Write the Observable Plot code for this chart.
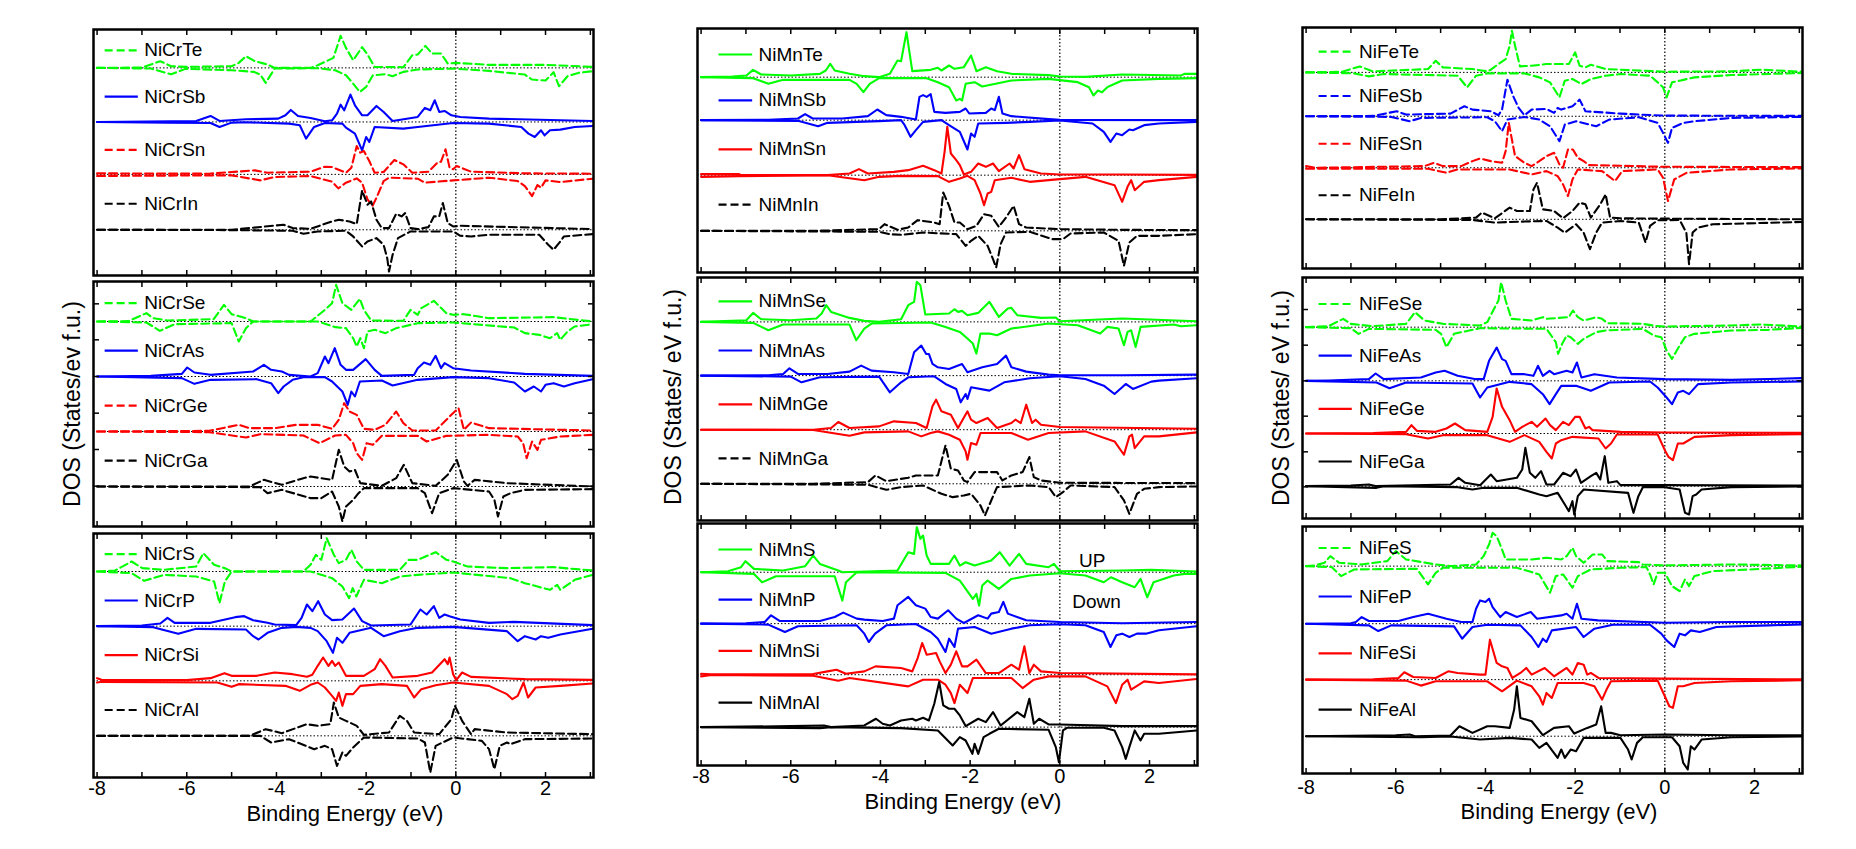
<!DOCTYPE html>
<html><head><meta charset="utf-8">
<script src="https://cdn.jsdelivr.net/npm/d3@7"></script>
<script src="https://cdn.jsdelivr.net/npm/@observablehq/plot@0.6"></script>
<style>
body{margin:0;background:#fff;}
#root{position:relative;width:1856px;height:849px;font-family:"Liberation Sans",Arial,sans-serif;color:#000;}
.ylab{position:absolute;font-size:23px;line-height:1;transform:translate(-50%,-50%) rotate(-90deg);white-space:nowrap;}
.xlab{position:absolute;font-size:22px;line-height:1;transform:translate(-50%,-50%);white-space:nowrap;}
</style></head><body><div id="root"></div>
<script>
// ---------- tick values ----------
const energyTicks = [-8,-7,-6,-5,-4,-3,-2,-1,0,1,2,3];
const energyLabels = [-8,-6,-4,-2,0,2];
const yTicksCr = [12.1,23.1,34.0,45.0,56.0,66.8];
const yTicksFe = [9.5,20.0,30.7,41.3,52.0,62.7];
const xAxisTitle = "Binding Energy (eV)";
const yAxisTitles = ["DOS (States/ev f.u.)","DOS (States/ eV f.u.)","DOS (States/ eV f.u.)"];
const spinLabels = ["UP","Down"];

// ---------- DOS data: [energy, value] pairs, spin up / spin down ----------
// NiCr top
const NiCrTe_up=[-8,0,-7.0,0.1,-6.59,2.0,-6.35,0.5,-6.03,0.3,-5.0,0.5,-4.84,1.5,-4.68,3.5,-4.48,2.0,-4.2,1.0,-4.04,0,-3.24,0,-3.08,0.8,-2.92,1.8,-2.73,3.0,-2.57,9.6,-2.45,6.0,-2.29,2.3,-2.09,6.2,-1.97,4.0,-1.81,0.3,-1.17,0.2,-0.97,3.8,-0.85,4.0,-0.68,6.6,-0.53,4.3,-0.33,4.3,-0.18,1.3,0,1.5,0.74,0.9,2.0,0.9,3.05,0.3];
const NiCrTe_dn=[-8,0,-6.8,0.2,-6.35,1.9,-6.03,0.3,-5.0,0.7,-4.5,1.2,-4.36,2.0,-4.24,4.5,-4.04,0.2,-3.08,0.1,-2.69,0.7,-2.45,2.2,-2.29,4.7,-2.14,7.2,-2.0,5.7,-1.85,2.2,-1.57,1.9,-1.41,2.5,-1.17,1.2,-0.85,0.5,-0.06,0.2,0.74,0.9,1.54,2.0,1.7,3.5,2.0,3.8,2.18,1.3,2.3,5.5,2.49,2.5,2.73,1.5,3.05,1.0];
const NiCrSb_up=[-8,0,-5.79,0.3,-5.47,1.8,-5.27,0.3,-4.68,0.8,-3.96,1.0,-3.8,2.0,-3.68,3.6,-3.52,1.8,-3.24,1.2,-2.92,0.2,-2.76,0.5,-2.65,2.5,-2.57,5.2,-2.49,3.5,-2.35,8.2,-2.25,5.0,-2.09,2.0,-1.97,2.0,-1.77,4.8,-1.61,3.0,-1.41,0.3,-0.85,1.5,-0.69,4.2,-0.57,3.5,-0.47,6.5,-0.37,3.0,-0.25,3.3,-0.1,2.0,0.1,1.5,0.74,1.0,3.05,0.3];
const NiCrSb_dn=[-8,0,-6.43,0.2,-5.47,0.3,-5.27,1.5,-5.0,0.2,-4.68,0.1,-3.72,0.5,-3.48,1.0,-3.34,5.0,-3.16,1.5,-2.92,0.3,-2.53,0.5,-2.45,1.7,-2.25,3.5,-2.09,8.5,-2.0,4.5,-1.93,6.0,-1.81,1.5,-1.17,2.0,-0.85,1.5,-0.06,0.3,0.74,0.5,1.46,1.5,1.62,3.5,1.76,4.5,1.9,2.5,1.98,4.0,2.1,2.5,2.33,2.3,2.65,1.5,3.05,1.2];
const NiCrSn_up=[-8,0.3,-5.5,0.2,-4.48,1.2,-4.2,0.5,-3.24,0.8,-2.92,2.3,-2.76,2.2,-2.45,0.5,-2.33,2.0,-2.21,8.5,-2.13,6.5,-2.05,7.0,-1.93,4.0,-1.81,0.5,-1.61,0.7,-1.37,4.3,-1.17,3.0,-0.97,0.5,-0.61,0.8,-0.41,3.5,-0.33,3.8,-0.23,7.5,-0.14,2.0,-0.06,1.5,0.02,2.5,0.34,0.8,1.54,0.3,3.05,0.2];
const NiCrSn_dn=[-8,0.5,-7.2,0.4,-5.0,0.3,-4.36,1.8,-4.04,0.8,-3.24,0.5,-2.76,2.2,-2.62,4.2,-2.45,2.5,-2.21,1.2,-2.09,2.5,-1.97,7.5,-1.86,9.5,-1.77,7.0,-1.61,2.0,-1.49,1.0,-0.85,1.3,-0.69,2.5,-0.06,1.8,0.74,1.0,1.38,2.0,1.54,3.5,1.7,6.5,1.82,3.2,1.9,4.0,2.0,1.8,2.33,2.3,3.05,1.3];
const NiCrIn_up=[-8,0,-5,0,-3.84,1.5,-3.64,0.5,-3.24,0.3,-2.76,2.5,-2.61,3.0,-2.37,2.5,-2.21,1.7,-2.09,11.8,-1.97,7.5,-1.89,8.5,-1.77,3.0,-1.65,0.5,-1.49,0.5,-1.33,4.8,-1.21,4.0,-1.13,5.0,-1.01,0.5,-0.85,0.2,-0.61,0.8,-0.49,4.0,-0.37,4.0,-0.29,8.0,-0.18,2.0,-0.06,1.0,0.1,1.2,3.05,0.2];
const NiCrIn_dn=[-8,0,-5,0.1,-3.64,0.3,-3.4,1.2,-3.08,0.5,-2.45,0.3,-2.29,2.0,-2.09,5.0,-1.97,3.5,-1.77,2.5,-1.61,4.5,-1.53,8.5,-1.49,12.5,-1.41,7.5,-1.29,2.5,-1.01,0.5,-0.06,0.5,0.1,1.8,0.34,2.0,0.74,1.5,1.86,1.5,2.06,4.5,2.18,6.0,2.3,4.0,2.41,2.0,3.05,1.3];
// NiCr middle
const NiCrSe_up=[-8,0,-7.3,0.1,-6.9,2.5,-6.75,1.0,-6.43,0.3,-5.4,0.7,-5.17,5.0,-5.0,2.2,-4.68,1.0,-4.52,0,-3.24,0,-2.92,3.5,-2.76,5.5,-2.67,11.0,-2.53,5.5,-2.33,3.5,-2.14,6.8,-2.05,3.5,-1.89,0.3,-1.17,0.2,-1.01,3.5,-0.85,2.0,-0.77,4.0,-0.49,6.2,-0.21,2.5,-0.06,2.0,0.18,2.2,0.74,1.0,2.18,1.3,3.05,0];
const NiCrSe_dn=[-8,0,-6.9,0.3,-6.6,2.8,-6.27,0.8,-5.0,0.5,-4.84,6.0,-4.68,2.0,-4.52,0,-3.08,0,-2.69,1.7,-2.45,2.0,-2.29,5.0,-2.21,7.5,-2.13,5.0,-2.05,8.0,-1.97,3.0,-1.81,2.5,-1.57,3.5,-1.33,2.0,-0.85,0.5,-0.06,0.3,1.3,1.8,1.54,3.5,1.86,4.0,2.1,5.0,2.26,3.5,2.33,5.5,2.49,3.0,2.65,1.5,3.05,0.8];
const NiCrAs_up=[-8,0,-6.8,0.2,-6.11,0.8,-5.99,2.7,-5.83,1.2,-5.47,0.5,-4.52,1.5,-4.28,3.5,-4.12,2.0,-3.88,1.5,-3.72,0.5,-3.24,0,-3.08,1.0,-2.92,6.0,-2.84,4.0,-2.7,8.5,-2.57,3.5,-2.45,2.0,-2.29,2.0,-2.01,5.2,-1.81,2.0,-1.65,0.2,-0.93,0.5,-0.85,2.5,-0.71,4.2,-0.57,3.5,-0.45,6.2,-0.33,2.5,-0.25,4.0,-0.06,2.5,0.34,1.8,1.54,0.8,3.05,0.2];
const NiCrAs_dn=[-8,0,-6.11,0.5,-5.83,2.2,-5.47,1.0,-4.44,0.8,-4.12,2.0,-3.96,5.0,-3.84,3.0,-3.64,1.0,-3.4,0.2,-2.92,0.2,-2.76,1.5,-2.53,4.5,-2.41,8.5,-2.33,4.5,-2.25,6.0,-2.14,1.5,-1.65,1.2,-1.41,2.7,-0.85,1.0,-0.06,0.2,0.74,0.5,1.3,1.8,1.54,4.5,1.74,3.0,1.9,4.5,2.0,2.5,2.18,2.0,2.41,3.0,2.65,2.0,3.05,0.8];
const NiCrGe_up=[-8,0,-5.5,0.2,-4.84,2.0,-4.6,1.0,-4.04,1.0,-3.56,2.0,-3.08,2.0,-2.76,0.8,-2.61,3.5,-2.49,8.5,-2.37,6.0,-2.21,5.0,-2.05,0.8,-1.81,0.5,-1.57,2.0,-1.33,6.0,-1.17,2.5,-0.97,0.3,-0.45,0.3,-0.21,3.5,-0.1,5.0,0.06,7.0,0.18,0.5,0.34,2.7,0.74,1.0,3.05,0.3];
const NiCrGe_dn=[-8,0,-5.5,0.2,-4.68,1.8,-4.36,0.8,-3.4,1.2,-3.04,3.5,-2.69,1.2,-2.45,1.0,-2.29,3.5,-2.21,6.5,-2.09,8.5,-1.99,3.5,-1.85,4.0,-1.65,1.3,-0.85,1.3,-0.65,3.0,-0.21,1.3,0.74,1.0,1.38,1.5,1.5,3.5,1.58,8.0,1.7,3.0,1.82,5.5,1.9,2.5,2.33,1.5,3.05,1.0];
const NiCrGa_up=[-8,0,-4.6,0,-4.28,2.0,-3.88,0.5,-3.4,2.5,-3.24,3.0,-2.76,2.0,-2.61,11.0,-2.49,6.0,-2.37,4.5,-2.25,5.0,-2.13,1.0,-1.65,0.2,-1.33,2.5,-1.16,6.5,-0.97,1.0,-0.45,0.2,-0.18,3.5,0.02,8.0,0.18,1.5,0.26,0.2,0.42,2.0,1.14,1.0,3.05,0];
const NiCrGa_dn=[-8,0,-4.36,0.2,-4.2,2.0,-3.88,1.0,-3.24,3.5,-3.0,3.5,-2.76,1.5,-2.61,6.0,-2.53,10.5,-2.45,6.0,-2.29,4.0,-2.17,2.0,-2.05,0.5,-0.85,0.5,-0.69,2.0,-0.53,8.0,-0.37,2.0,-0.06,0.5,0.74,1.5,0.86,4.0,0.94,9.0,1.06,3.0,1.22,2.0,1.54,1.0,3.05,0.8];
// NiCr bottom
const NiCrS_up=[-8,0,-7.6,0.3,-7.23,3.0,-6.99,1.0,-6.51,0.5,-5.79,1.5,-5.63,5.5,-5.39,2.0,-5.15,1.0,-5.0,0,-3.4,0,-3.24,2.0,-3.12,5.0,-3.0,3.5,-2.88,10.0,-2.72,5.0,-2.61,2.5,-2.45,3.5,-2.33,6.5,-2.21,3.0,-2.05,0.5,-1.25,0.5,-1.05,3.5,-0.85,3.5,-0.45,5.8,-0.21,3.5,-0.06,3.0,0.26,1.5,1.14,1.0,2.18,1.3,3.05,0.3];
const NiCrS_dn=[-8,0,-7.23,0.5,-6.95,2.8,-6.51,1.0,-5.79,1.5,-5.39,3.0,-5.27,9.5,-5.15,3.0,-5.0,0,-3.24,0,-2.76,2.0,-2.53,4.5,-2.38,8.0,-2.3,5.0,-2.22,7.5,-2.05,2.5,-1.65,3.5,-1.25,1.5,-0.85,1.0,-0.06,0.3,1.22,2.0,1.54,3.5,2.1,5.5,2.26,4.0,2.33,5.5,2.65,2.5,3.05,1.0];
const NiCrP_up=[-8,0,-7.0,0.2,-6.59,0.8,-6.43,2.5,-6.27,1.0,-5.47,1.0,-4.92,2.7,-4.72,3.0,-4.52,1.8,-4.2,1.0,-4.04,0.5,-3.56,0.3,-3.44,2.5,-3.32,6.5,-3.2,4.5,-3.07,7.5,-2.92,3.5,-2.76,1.8,-2.53,2.0,-2.27,5.3,-2.09,1.5,-1.89,0.2,-1.01,0.5,-0.79,5.0,-0.65,3.5,-0.49,6.0,-0.37,2.5,-0.25,3.5,-0.14,3.0,0.1,2.0,0.74,1.0,1.3,1.3,3.05,0.3];
const NiCrP_dn=[-8,0,-6.75,0.3,-6.19,2.3,-5.79,0.8,-4.68,1.0,-4.52,3.0,-4.4,4.0,-4.2,2.0,-3.88,0.5,-3.56,0.2,-3.24,0.5,-3.08,1.5,-2.88,4.5,-2.74,8.0,-2.65,3.5,-2.53,5.0,-2.37,2.0,-1.89,0.5,-1.61,3.0,-1.25,1.5,-0.85,0.5,-0.06,0.2,1.14,1.5,1.38,4.5,1.54,3.0,1.78,4.0,1.9,3.0,2.06,3.5,2.33,2.5,3.05,0.8];
const NiCrSi_up=[-8,0.8,-7.9,0.3,-6.0,0.2,-5.47,0.8,-5.16,2.3,-5.0,1.5,-4.44,1.5,-4.04,2.5,-3.64,2.0,-3.32,1.2,-3.2,1.8,-3.08,4.5,-2.96,7.0,-2.84,4.5,-2.76,6.0,-2.69,4.5,-2.61,5.5,-2.45,1.5,-2.05,1.5,-1.81,3.5,-1.69,6.5,-1.57,4.5,-1.41,1.0,-0.85,1.5,-0.53,2.5,-0.25,6.5,-0.18,5.0,-0.14,7.0,-0.06,2.0,0.01,0.2,0.14,2.5,0.34,1.2,1.54,0.5,3.05,0.3];
const NiCrSi_dn=[-8,0.5,-7.9,0.3,-5.32,0.5,-5.0,1.8,-4.84,1.0,-3.8,1.5,-3.48,3.0,-3.24,1.2,-3.08,0.5,-2.92,2.0,-2.76,4.5,-2.67,6.0,-2.61,3.5,-2.53,7.5,-2.45,4.0,-2.29,4.0,-2.13,1.5,-1.65,1.0,-1.09,1.5,-0.93,5.0,-0.77,2.5,-0.45,1.3,-0.06,0.5,0.74,1.5,1.14,4.0,1.26,5.5,1.38,4.5,1.51,0.5,1.61,5.0,1.78,2.0,2.33,1.5,3.05,0.8];
const NiCrAl_up=[-8,0,-4.6,0,-4.24,2.0,-3.88,0.8,-3.32,3.5,-3.08,3.0,-2.8,3.5,-2.72,10.0,-2.61,5.5,-2.45,4.5,-2.21,3.0,-2.05,0.3,-1.49,1.0,-1.25,6.0,-1.09,4.5,-0.93,1.0,-0.37,0.5,-0.1,5.0,-0.02,9.0,0.14,4.5,0.34,0.5,0.42,2.0,1.14,1.0,3.05,0.5];
const NiCrAl_dn=[-8,0,-4.36,0,-4.12,2.0,-3.72,1.0,-3.16,4.0,-2.92,3.0,-2.76,4.0,-2.65,9.0,-2.53,5.0,-2.45,6.0,-2.29,3.5,-2.05,0.5,-0.85,0.8,-0.69,2.0,-0.57,11.0,-0.45,3.0,-0.06,0.5,0.58,1.5,0.74,4.0,0.86,10.0,0.98,3.0,1.14,2.0,1.22,2.5,1.54,1.0,3.05,0.8];
// NiMn top
const NiMnTe_up=[-8,0,-7.3,0.2,-6.99,0.5,-6.84,2.2,-6.66,0.8,-6.0,0.5,-5.35,1.0,-5.22,2.0,-5.12,4.0,-5.02,2.0,-4.69,1.0,-4.36,0.3,-4.03,0,-3.79,1.0,-3.62,5.0,-3.54,4.8,-3.42,13.5,-3.29,1.8,-2.88,2.2,-2.72,2.8,-2.64,2.0,-2.47,3.5,-2.35,2.5,-2.14,3.0,-1.98,6.5,-1.86,1.8,-1.65,3.0,-1.4,1.8,-1.08,1.0,-0.25,0.6,0,0.2,0.57,0.1,1.39,0.8,2.7,0.5,2.78,1.0,3.05,1.0];
const NiMnTe_dn=[-8,0,-6.84,0.3,-6.5,2.0,-6.17,0.8,-4.69,0.8,-4.53,2.0,-4.38,4.5,-4.24,2.0,-4.03,0.3,-2.97,0.3,-2.72,1.5,-2.47,3.0,-2.31,7.0,-2.23,6.5,-2.18,7.0,-2.1,2.0,-1.9,1.5,-1.73,2.8,-1.08,1.0,-0.25,0.5,0.4,1.5,0.65,3.0,0.75,5.5,0.85,4.0,0.94,4.5,1.06,3.0,1.14,2.5,1.39,1.0,2.21,0.5,3.05,0.3];
const NiMnSb_up=[-8,0,-6.5,0.1,-5.84,0.5,-5.68,1.8,-5.51,0.5,-4.85,0.5,-4.28,1.2,-4.07,3.2,-3.87,1.5,-3.54,1.0,-3.21,0.2,-3.13,7.0,-3.05,7.5,-2.97,7.0,-2.88,7.8,-2.8,2.5,-2.55,2.2,-2.23,2.5,-2.1,3.5,-2.02,2.0,-1.65,2.2,-1.53,3.5,-1.45,3.0,-1.36,7.0,-1.28,2.0,-1.08,1.2,-0.25,0.3,0,0.1,3.05,0];
const NiMnSb_dn=[-8,0,-5.84,0.2,-5.39,1.8,-5.18,0.8,-4.03,0.3,-3.54,0,-3.46,1.5,-3.33,5.0,-3.21,3.0,-3.05,0.5,-2.64,0,-2.47,1.5,-2.23,3.5,-2.06,8.8,-1.98,4.0,-1.9,5.0,-1.82,1.0,-1.2,0.8,-0.67,0.5,0,0.1,0.73,1.0,0.98,3.5,1.13,6.5,1.26,4.0,1.39,4.5,1.55,2.8,1.63,3.0,1.88,1.5,2.21,1.0,3.05,0.5];
const NiMnSn_up=[-8,0.3,-7.15,0.3,-7.11,0,-5.18,0,-4.69,0.5,-4.48,1.8,-4.28,0.5,-3.7,1.0,-3.38,1.5,-3.05,2.8,-2.8,1.5,-2.64,0.5,-2.57,7.0,-2.51,14.5,-2.43,6.5,-2.31,4.5,-2.23,3.0,-2.14,0.2,-1.98,1.0,-1.82,3.5,-1.65,2.5,-1.49,3.5,-1.36,1.2,-1.12,3.5,-1.03,2.0,-0.91,6.0,-0.79,1.8,-0.42,0.5,0,0.2,1.39,0.2,3.05,0.1];
const NiMnSn_dn=[-8,0.5,-7.15,0.3,-5.18,0,-4.36,1.5,-4.03,0.5,-3.54,0.2,-2.72,0.3,-2.47,2.0,-2.23,1.0,-2.06,0.2,-1.9,1.5,-1.77,5.5,-1.69,9.0,-1.61,5.5,-1.53,5.0,-1.45,1.5,-1.08,0.8,-0.67,2.0,-0.25,1.5,0.57,0.5,1.22,3.0,1.39,8.0,1.51,3.5,1.59,1.5,1.67,4.5,1.88,2.0,2.21,1.5,3.05,0.5];
const NiMnIn_up=[-8,0,-5.5,0,-4.03,0.5,-3.91,2.0,-3.62,0.3,-3.38,1.0,-3.17,3.2,-2.8,2.5,-2.68,2.0,-2.6,11.5,-2.47,7.5,-2.35,2.5,-2.23,2.5,-2.06,0.5,-1.86,1.5,-1.69,5.0,-1.53,4.5,-1.36,1.2,-1.2,4.0,-1.03,7.5,-0.91,2.0,-0.75,1.0,0,0.5,1.39,0.3,3.05,0.2];
const NiMnIn_dn=[-8,0,-4.03,0.3,-3.79,1.0,-3.54,1.2,-3.05,0.5,-2.31,1.0,-2.1,4.5,-1.98,3.0,-1.82,1.5,-1.61,4.5,-1.49,8.5,-1.42,11.0,-1.32,4.0,-1.2,0.5,-0.67,0.3,-0.17,2.5,0.07,2.5,0.24,0.8,0.98,0.5,1.31,3.0,1.43,10.5,1.55,3.5,1.72,1.5,2.21,1.5,3.05,1.0];
// NiMn middle
const NiMnSe_up=[-8,0,-7.3,0.3,-6.99,0.5,-6.84,2.7,-6.66,0.8,-6.0,0.5,-5.43,1.0,-5.31,2.5,-5.21,5.0,-5.1,3.0,-4.69,1.2,-4.36,0.3,-4.03,0,-3.54,0.8,-3.38,5.0,-3.25,6.0,-3.19,12.0,-3.11,11.0,-3.0,2.2,-2.47,2.5,-2.35,3.8,-2.27,3.0,-2.18,3.3,-2.06,2.0,-1.82,2.7,-1.57,6.0,-1.36,1.5,-1.16,4.0,-1.08,4.2,-0.95,2.0,-0.42,1.2,-0.09,1.3,0,0.2,1.39,1.0,3.05,0.2];
const NiMnSe_dn=[-8,0,-6.84,0.3,-6.5,2.5,-6.17,0.8,-4.69,0.8,-4.54,5.5,-4.36,2.0,-4.2,0.5,-2.88,0.2,-2.55,1.5,-2.23,3.0,-2.06,5.0,-1.94,6.5,-1.86,9.5,-1.77,3.5,-1.57,3.5,-1.4,4.0,-1.08,2.0,-0.25,0.5,0.4,1.0,0.9,3.5,1.06,1.5,1.31,2.0,1.43,7.0,1.51,3.0,1.59,2.5,1.69,7.5,1.8,1.5,2.54,0.8,2.7,1.3,3.05,1.0];
const NiMnAs_up=[-8,0,-6.5,0.1,-6.17,0.5,-6.03,2.2,-5.84,0.5,-5.18,0.5,-4.69,1.2,-4.43,3.0,-4.2,1.5,-3.7,1.0,-3.38,0.5,-3.25,7.0,-3.09,9.0,-2.98,6.5,-2.92,6.5,-2.84,3.5,-2.72,2.5,-2.47,2.0,-2.18,3.5,-2.06,1.0,-1.73,2.5,-1.4,3.5,-1.2,6.0,-1.08,2.5,-0.75,1.2,-0.25,0.3,0,0.1,1.39,0.1,3.05,0.3];
const NiMnAs_dn=[-8,0,-6.0,0.3,-5.76,2.0,-5.35,0.5,-4.03,0.3,-3.79,5.0,-3.54,2.0,-3.38,0.5,-2.8,0.2,-2.55,2.5,-2.31,4.0,-2.21,8.0,-2.1,5.5,-2.06,7.0,-1.98,3.5,-1.57,4.5,-1.24,2.0,-0.67,0.8,0,0.2,0.57,1.0,0.98,3.0,1.22,5.5,1.39,3.5,1.47,2.5,1.63,4.0,2.04,1.8,2.21,1.5,3.05,0.8];
const NiMnGe_up=[-8,0,-5.5,0,-5.1,0.5,-4.94,2.3,-4.69,0.5,-4.03,1.0,-3.7,2.5,-3.21,2.0,-2.97,0.5,-2.84,7.0,-2.76,9.0,-2.64,5.5,-2.43,4.5,-2.27,0.5,-2.06,5.5,-1.98,3.0,-1.86,2.0,-1.61,3.5,-1.4,0.5,-1.08,2.0,-0.99,3.0,-0.87,2.0,-0.75,7.5,-0.62,2.0,-0.54,3.0,-0.42,1.5,0,0.8,3.05,0.3];
const NiMnGe_dn=[-8,0,-5.5,0.1,-4.69,1.8,-4.36,0.8,-3.38,0.5,-3.09,2.0,-2.88,1.0,-2.72,0.5,-2.47,1.5,-2.23,3.0,-2.1,6.5,-2.06,9.0,-1.98,4.0,-1.86,4.5,-1.77,1.0,-1.08,1.0,-0.71,3.0,-0.25,1.0,0.57,0.5,1.22,3.5,1.43,7.5,1.55,2.0,1.61,1.5,1.67,5.5,1.88,2.0,2.21,2.0,3.05,0.8];
const NiMnGa_up=[-8,0,-5.5,0,-4.28,0.5,-4.11,2.5,-3.87,0.8,-3.38,1.8,-3.21,2.5,-2.72,2.5,-2.55,11.5,-2.43,4.5,-2.27,4.0,-2.14,1.0,-2.06,0.5,-1.9,3.5,-1.61,3.5,-1.4,3.5,-1.28,1.0,-1.08,2.5,-0.83,3.5,-0.68,8.0,-0.58,2.0,-0.42,1.0,0,0.3,3.05,0.2];
const NiMnGa_dn=[-8,0,-4.28,0.3,-3.87,1.8,-3.54,1.0,-3.05,0.5,-2.64,3.0,-2.39,4.0,-2.14,3.5,-1.98,3.0,-1.77,6.5,-1.67,9.5,-1.53,5.0,-1.4,1.0,-0.67,0.5,-0.25,1.0,-0.09,4.0,0.07,2.5,0.24,0.5,1.22,1.0,1.43,5.0,1.55,9.0,1.72,3.0,1.88,1.5,2.21,1.0,3.05,0.8];
// NiMn bottom
const NiMnS_up=[-8,0,-7.4,0.3,-7.11,1.5,-7.01,3.3,-6.82,1.0,-6.17,0.5,-5.68,1.8,-5.5,5.0,-5.35,2.5,-4.94,0.5,-4.85,0,-3.62,0.5,-3.38,6.0,-3.25,5.5,-3.19,13.5,-3.11,10.0,-3.05,11.0,-2.97,5.0,-2.88,2.5,-2.47,2.5,-2.35,5.0,-2.23,2.0,-2.1,3.0,-1.9,2.0,-1.53,3.5,-1.34,6.0,-1.12,2.0,-0.91,5.5,-0.75,2.5,-0.25,1.5,-0.13,2.5,0,0.3,1.39,0.5,2.04,0.7,3.05,0.2];
const NiMnS_dn=[-8,0,-6.82,0.5,-6.64,3.0,-6.33,1.2,-5.02,1.2,-4.85,8.5,-4.77,3.0,-4.53,0,-2.55,0.2,-2.23,2.5,-1.94,8.0,-1.86,6.5,-1.8,10.0,-1.73,4.0,-1.61,2.5,-1.36,5.0,-1.08,2.0,-0.67,1.0,0,0.3,0.57,1.0,0.98,3.0,1.14,1.5,1.39,3.0,1.67,4.5,1.8,2.0,1.95,7.5,2.09,3.0,2.54,1.0,2.78,0.5,3.05,0.5];
const NiMnP_up=[-8,0,-7.0,0.1,-6.58,0.5,-6.44,2.5,-6.25,0.8,-5.35,0.8,-5.02,2.0,-4.83,3.3,-4.53,1.5,-4.36,1.2,-3.95,0.8,-3.7,1.5,-3.62,5.5,-3.38,8.0,-3.21,5.5,-3.0,4.5,-2.88,2.0,-2.72,1.5,-2.49,4.0,-2.31,1.5,-2.14,0.2,-1.82,2.5,-1.61,1.5,-1.53,3.0,-1.36,3.5,-1.26,6.5,-1.16,3.0,-0.75,1.0,0,0.5,1.39,0.1,3.05,0.5];
const NiMnP_dn=[-8,0,-6.5,0.3,-6.13,2.5,-5.84,0.8,-4.53,0.5,-4.36,3.0,-4.26,5.5,-4.12,3.0,-3.87,0.5,-3.21,0.1,-2.88,2.5,-2.72,4.5,-2.55,8.5,-2.47,4.5,-2.35,7.0,-2.27,1.5,-1.9,1.0,-1.53,3.0,-1.08,1.5,-0.67,0.5,0,0.2,0.57,0.5,0.98,2.5,1.13,7.0,1.26,3.5,1.39,3.0,1.55,4.0,1.72,3.0,1.92,3.0,2.21,2.0,3.05,0.8];
const NiMnSi_up=[-8,0.3,-7.77,0.1,-5.5,0.2,-5.18,1.0,-4.98,1.5,-4.77,0.3,-4.36,1.0,-4.11,2.5,-3.54,2.0,-3.29,1.0,-3.17,5.0,-3.07,9.5,-2.97,6.0,-2.76,6.5,-2.68,4.0,-2.55,0.5,-2.43,3.0,-2.31,7.0,-2.18,2.5,-2.06,2.5,-1.86,4.5,-1.65,0.5,-1.36,0.5,-1.08,3.0,-0.91,1.5,-0.79,8.5,-0.68,0.5,-0.58,3.0,-0.42,1.0,0,0.5,3.05,0.1];
const NiMnSi_dn=[-8,0.5,-7.77,0.1,-5.5,0.3,-4.94,1.8,-4.69,1.0,-3.38,3.5,-3.05,1.5,-2.72,1.5,-2.55,3.0,-2.43,5.5,-2.35,8.5,-2.23,3.0,-2.06,5.5,-1.94,1.0,-1.08,1.0,-0.83,4.0,-0.58,1.5,-0.25,0.5,0.57,0.5,1.06,3.5,1.25,8.5,1.39,3.0,1.51,1.5,1.59,4.5,1.88,2.0,2.21,2.5,3.05,1.3];
const NiMnAl_up=[-8,0,-6.0,0.3,-5.26,0.5,-5.1,0,-4.36,0.5,-4.1,2.5,-3.95,1.0,-3.79,0.5,-3.54,2.0,-3.29,2.5,-3.21,2.0,-3.05,2.8,-2.92,2.0,-2.8,7.0,-2.69,13.5,-2.6,6.5,-2.47,5.5,-2.35,5.5,-2.23,3.5,-2.1,0.3,-1.82,2.5,-1.65,1.5,-1.49,4.5,-1.32,0.5,-0.95,4.5,-0.79,3.0,-0.68,8.5,-0.58,1.0,-0.46,2.5,-0.25,0.8,0,0.8,1.39,0.3,3.05,0.3];
const NiMnAl_dn=[-8,0,-5.35,0.3,-5.1,0,-3.54,0.3,-2.72,1.0,-2.39,5.5,-2.23,3.0,-2.1,4.0,-1.95,8.0,-1.9,5.0,-1.82,8.0,-1.7,3.0,-1.57,2.0,-1.36,0.5,-0.25,0.8,-0.09,6.0,-0.02,10.5,0.07,1.0,0.16,0.2,0.98,0.2,1.22,1.0,1.39,6.0,1.47,9.5,1.55,6.0,1.67,1.0,1.8,4.0,1.88,2.0,2.21,2.0,3.05,1.0];
// NiFe top
const NiFeTe_up=[-8,0,-7.2,0.2,-6.8,1.8,-6.52,0.3,-5.28,1.0,-5.11,3.5,-4.95,1.5,-4.29,1.0,-3.96,0.3,-3.88,0.8,-3.71,2.5,-3.55,4.0,-3.46,8.0,-3.41,12.5,-3.34,8.0,-3.23,1.8,-2.97,2.0,-2.64,2.5,-2.39,2.5,-2.14,2.5,-2.0,6.0,-1.9,2.0,-1.77,1.5,-1.65,2.3,-1.32,1.0,-0.99,0.8,0,0.2,1.48,0.3,2.14,0.8,3.05,0.2];
const NiFeTe_dn=[-8,0,-6.93,0.3,-6.6,1.2,-6.27,0.5,-4.62,1.0,-4.41,4.5,-4.21,1.0,-3.96,0.3,-3.13,0.3,-2.8,1.5,-2.56,3.0,-2.35,7.5,-2.23,2.5,-2.06,2.0,-1.86,3.5,-1.65,2.0,-1.32,1.0,-0.99,0.5,-0.33,1.0,-0.16,3.0,-0.04,4.5,0.04,7.5,0.16,3.0,0.33,2.5,0.66,1.5,1.48,0.8,3.05,0.2];
const NiFeSb_up=[-8,0,-6.5,0.1,-5.98,1.5,-5.77,0.5,-4.78,0.8,-4.47,3.0,-4.29,2.0,-3.88,1.5,-3.71,0.3,-3.63,2.0,-3.51,11.0,-3.38,6.0,-3.26,2.5,-3.13,0.3,-2.97,2.0,-2.64,2.2,-2.47,1.0,-2.39,2.5,-2.31,2.0,-2.06,3.0,-1.9,5.0,-1.77,1.5,-0.99,0.8,-0.58,0.5,0,0.2,3.05,0.1];
const NiFeSb_dn=[-8,0,-6.1,0.2,-5.69,1.5,-5.44,0.5,-3.96,0.3,-3.79,1.5,-3.63,4.5,-3.51,1.0,-3.13,0.2,-2.8,1.0,-2.56,3.0,-2.35,7.5,-2.23,2.5,-1.98,1.5,-1.53,3.0,-1.24,1.0,-0.58,0.3,-0.16,2.0,-0.04,5.0,0.07,8.0,0.16,3.5,0.41,2.0,0.66,1.5,1.48,0.5,3.05,0.2];
const NiFeSn_up=[-8,0.5,-7.8,0,-5.36,0.5,-5.15,1.5,-4.95,0.5,-4.54,0.5,-4.29,2.0,-4.12,2.8,-3.88,2.0,-3.63,1.5,-3.55,5.0,-3.48,13.5,-3.34,3.5,-3.13,1.5,-2.97,0.5,-2.8,2.0,-2.64,3.5,-2.47,4.5,-2.35,1.0,-2.27,0,-2.16,5.5,-2.05,5.5,-1.94,3.0,-1.81,2.0,-1.69,0.8,-0.99,0.6,0,0.3,3.05,0.2];
const NiFeSn_dn=[-8,0.3,-5.28,0.3,-4.87,1.5,-4.62,0.5,-3.46,0.5,-2.97,2.0,-2.64,1.0,-2.39,2.5,-2.27,5.0,-2.16,8.5,-2.06,3.5,-1.94,0.5,-1.4,1.0,-1.11,4.0,-0.95,1.0,-0.16,0.5,-0.04,3.0,0.07,10.0,0.21,3.5,0.49,1.5,1.48,0.5,3.05,0.2];
const NiFeIn_up=[-8,0,-5,0,-4.21,0.5,-4.08,2.0,-3.79,0.3,-3.46,3.5,-3.3,2.5,-3.01,2.5,-2.93,9.0,-2.85,11.0,-2.72,3.0,-2.47,2.5,-2.27,0.3,-2.06,2.5,-1.9,5.0,-1.77,4.5,-1.65,0.5,-1.44,4.5,-1.32,7.5,-1.22,0.5,-0.99,0.3,0,0.2,3.05,0];
const NiFeIn_dn=[-8,0,-4.29,0.2,-3.79,1.0,-3.46,0.8,-2.64,0.5,-2.39,2.5,-2.23,4.0,-1.98,1.5,-1.81,4.0,-1.67,9.0,-1.53,4.0,-1.4,1.0,-0.99,0.5,-0.58,1.0,-0.43,7.0,-0.33,2.0,-0.16,0.3,0.33,0.2,0.48,4.0,0.54,13.5,0.62,4.0,0.74,2.5,1.07,1.5,3.05,0.8];
// NiFe middle
const NiFeSe_up=[-8,0,-7.5,0.3,-7.17,2.5,-7.01,1.0,-6.52,0.3,-5.77,1.0,-5.57,4.5,-5.36,2.0,-4.95,1.0,-4.12,0.5,-3.96,1.5,-3.79,6.0,-3.71,8.0,-3.65,13.5,-3.55,8.0,-3.42,2.5,-2.97,2.0,-2.72,3.0,-2.64,2.5,-2.14,3.0,-2.05,5.0,-1.94,3.0,-1.81,2.0,-1.53,3.0,-1.4,2.5,-1.28,1.2,-0.49,1.0,-0.16,0.3,0,0.2,1.48,0.5,2.14,0.8,3.05,0.2];
const NiFeSe_dn=[-8,0,-7.01,0.3,-6.83,2.0,-6.6,0.5,-5.11,0.8,-4.99,2.0,-4.87,6.0,-4.7,2.0,-4.12,0.3,-2.64,0.5,-2.56,2.0,-2.43,4.5,-2.38,8.0,-2.29,5.0,-2.19,2.5,-2.1,3.0,-1.94,5.0,-1.81,3.5,-1.53,1.5,-1.32,1.0,-0.49,0.5,-0.25,2.5,-0.08,3.0,0.04,7.0,0.16,9.5,0.33,5.5,0.45,3.0,0.66,2.0,1.48,1.0,2.31,0.8,3.05,0.2];
const NiFeAs_up=[-8,0,-7.5,0.1,-6.6,0.5,-6.45,2.2,-6.27,0.5,-5.44,1.0,-5.11,2.5,-4.91,3.0,-4.62,1.5,-4.21,0.5,-4.04,0.5,-3.92,6.0,-3.75,10.0,-3.63,6.5,-3.55,6.0,-3.42,2.0,-3.13,2.0,-2.93,1.5,-2.83,4.5,-2.72,1.5,-2.57,3.0,-2.47,2.0,-2.19,3.0,-2.06,2.5,-1.96,5.5,-1.86,1.0,-1.57,2.0,-1.07,1.0,0,0.5,1.48,0.3,3.05,0.8];
const NiFeAs_dn=[-8,0,-6.43,0.5,-6.14,2.2,-5.77,0.5,-4.29,0.8,-4.12,5.0,-3.96,2.0,-3.46,0.3,-2.97,1.0,-2.72,4.0,-2.57,7.0,-2.43,4.0,-2.31,1.5,-1.98,1.5,-1.65,3.0,-1.4,1.5,-1.24,0.5,-0.33,0.2,-0.16,2.0,0.04,5.0,0.16,7.0,0.29,3.5,0.41,3.0,0.54,4.0,0.74,1.0,1.48,0.5,3.05,0.2];
const NiFeGe_up=[-8,0,-6.5,0.1,-5.77,0.5,-5.65,2.5,-5.53,0.8,-5.11,0.5,-4.87,1.5,-4.68,3.0,-4.45,1.0,-3.96,0.5,-3.84,5.0,-3.75,13.5,-3.63,8.0,-3.46,4.0,-3.34,0.5,-3.18,2.0,-2.97,3.5,-2.85,2.0,-2.66,4.5,-2.56,2.5,-2.43,1.0,-2.27,3.5,-2.14,2.5,-2.0,5.0,-1.9,5.0,-1.77,1.5,-1.69,2.0,-1.61,1.0,-0.99,0.5,0,0.3,3.05,0.2];
const NiFeGe_dn=[-8,0,-5.77,0.2,-5.28,1.5,-4.95,0.5,-3.96,0.5,-3.46,2.5,-3.13,0.5,-2.8,2.5,-2.64,5.5,-2.52,7.5,-2.43,3.0,-2.31,2.0,-2.06,1.0,-1.48,1.5,-1.32,4.5,-1.2,3.0,-1.07,0.3,-0.16,0.3,0,5.0,0.08,7.0,0.18,8.0,0.29,3.0,0.41,3.0,0.66,1.0,1.48,0.5,3.05,0.2];
const NiFeGa_up=[-8,0,-7,0.2,-6.6,0.5,-6.43,0,-4.78,0.5,-4.6,2.5,-4.45,1.0,-4.12,0.3,-3.88,3.5,-3.75,1.5,-3.3,2.5,-3.18,5.0,-3.11,11.5,-3.01,4.0,-2.89,2.5,-2.76,4.5,-2.64,0.5,-2.47,0.5,-2.27,4.0,-2.1,3.0,-1.98,5.0,-1.87,1.0,-1.65,3.0,-1.53,4.0,-1.44,2.0,-1.34,9.0,-1.26,1.0,-1.07,1.5,-0.99,0.3,0,0.3,3.05,0.2];
const NiFeGa_dn=[-8,0,-6.43,0.5,-6.27,0,-4.62,0.3,-4.29,1.0,-4.04,0.5,-3.3,0.5,-2.8,2.5,-2.64,3.0,-2.39,2.0,-2.23,5.5,-2.14,7.5,-2.06,4.5,-2.02,8.5,-1.94,3.0,-1.81,1.0,-0.82,2.0,-0.7,8.0,-0.59,3.0,-0.49,0.3,0,0.3,0.33,1.0,0.45,8.0,0.54,8.5,0.62,3.0,0.7,2.5,0.82,1.0,1.48,0.3,3.05,0.1];
// NiFe bottom
const NiFeS_up=[-8,0,-7.8,0.2,-7.59,1.0,-7.46,3.0,-7.26,1.0,-6.76,0.5,-6.19,1.5,-6.0,4.5,-5.77,2.0,-5.11,0.5,-4.78,0,-4.21,0.5,-4.04,3.0,-3.92,6.5,-3.84,10.0,-3.75,9.0,-3.63,5.0,-3.55,2.0,-2.97,2.0,-2.64,2.5,-2.31,2.0,-2.19,3.0,-2.06,5.5,-1.98,3.0,-1.81,1.0,-1.61,3.5,-1.4,3.5,-1.28,1.5,-0.58,1.2,-0.49,0.5,0,0.2,1.48,0.5,3.05,0.2];
const NiFeS_dn=[-8,0,-7.43,0.3,-7.22,3.0,-6.93,1.0,-5.53,0.8,-5.28,5.5,-5.11,2.0,-4.95,0.5,-3.3,0.5,-2.8,2.5,-2.56,8.0,-2.43,3.0,-2.27,2.5,-2.06,6.5,-1.94,3.0,-1.65,1.0,-0.99,0.5,-0.41,0.3,-0.33,2.5,-0.25,5.5,-0.16,2.0,0,2.0,0.16,6.0,0.33,7.5,0.45,4.0,0.54,6.0,0.66,3.0,1.07,1.5,1.9,1.0,3.05,0.2];
const NiFeP_up=[-8,0,-7,0.1,-6.89,0.5,-6.76,2.0,-6.6,0.8,-5.94,0.8,-5.61,2.0,-5.28,3.0,-4.87,1.5,-4.54,0.5,-4.29,0.5,-4.21,4.5,-4.12,7.0,-4.0,6.5,-3.92,7.5,-3.84,5.0,-3.67,2.0,-3.55,3.5,-3.3,2.0,-2.99,3.5,-2.85,1.5,-2.31,2.5,-2.19,3.0,-2.06,1.5,-1.96,6.0,-1.86,1.5,-1.49,1.0,0,0.3,1.48,0.5,3.05,0.5];
const NiFeP_dn=[-8,0,-6.6,0.5,-6.39,2.2,-6.1,0.5,-4.7,0.8,-4.52,4.5,-4.29,1.0,-3.96,0.3,-3.22,0.5,-2.97,4.0,-2.82,7.0,-2.72,4.5,-2.64,5.5,-2.52,2.0,-1.98,1.0,-1.81,4.0,-1.57,1.5,-1.16,0.3,-0.33,0.3,-0.08,3.0,0.04,5.0,0.21,7.0,0.33,3.0,0.45,3.5,0.58,2.0,0.78,2.5,1.15,1.0,2.31,0.5,3.05,0.2];
const NiFeSi_up=[-8,0,-6.5,0.1,-5.94,0.5,-5.81,2.2,-5.61,0.8,-5.11,0.5,-4.83,2.5,-4.62,2.0,-4.12,1.5,-4.0,1.5,-3.9,12.0,-3.75,5.0,-3.63,4.0,-3.51,3.5,-3.4,0.5,-3.22,2.0,-3.09,3.5,-2.97,1.5,-2.68,3.5,-2.47,1.0,-2.19,3.5,-2.06,1.5,-1.94,5.0,-1.81,4.5,-1.73,1.5,-1.65,2.0,-1.48,0.5,0,0.3,3.05,0.1];
const NiFeSi_dn=[-8,0,-5.77,0.3,-5.44,1.8,-5.11,0.5,-3.96,0.5,-3.63,3.5,-3.3,0.3,-2.97,2.0,-2.8,5.0,-2.72,7.5,-2.64,4.0,-2.52,5.5,-2.39,1.0,-1.81,1.0,-1.57,2.0,-1.4,6.0,-1.3,3.0,-1.2,0.5,-0.16,0.3,0,5.0,0.1,8.0,0.18,8.5,0.29,2.0,0.41,2.0,0.66,1.0,1.48,0.5,3.05,0.2];
const NiFeAl_up=[-8,0,-6.0,0.3,-5.69,0.5,-5.57,0,-4.78,0.2,-4.58,3.0,-4.29,1.0,-3.96,3.0,-3.79,3.0,-3.46,2.5,-3.36,8.0,-3.3,15.0,-3.22,5.5,-2.97,4.5,-2.72,0.3,-2.47,2.5,-2.14,3.0,-2.02,0.8,-1.73,2.5,-1.53,3.5,-1.42,9.0,-1.32,1.0,-1.2,1.0,-0.99,0.3,0,0.5,1.48,0.3,3.05,0.3];
const NiFeAl_dn=[-8,0,-5.44,0.3,-4.78,0.1,-4.12,1.0,-3.46,0.5,-2.97,1.0,-2.8,3.5,-2.64,2.0,-2.39,6.5,-2.31,4.0,-2.23,6.5,-2.1,4.0,-1.98,4.5,-1.81,0.5,-0.99,0.5,-0.82,4.0,-0.74,7.0,-0.62,2.0,-0.49,0.3,0.16,0.3,0.33,3.0,0.41,8.0,0.51,10.0,0.58,3.0,0.66,4.0,0.82,1.0,1.48,0.3,3.05,0.1];

// lookup table built from the arrays above
const series = {
  NiCrTe:[NiCrTe_up,NiCrTe_dn],NiCrSb:[NiCrSb_up,NiCrSb_dn],NiCrSn:[NiCrSn_up,NiCrSn_dn],NiCrIn:[NiCrIn_up,NiCrIn_dn],
  NiCrSe:[NiCrSe_up,NiCrSe_dn],NiCrAs:[NiCrAs_up,NiCrAs_dn],NiCrGe:[NiCrGe_up,NiCrGe_dn],NiCrGa:[NiCrGa_up,NiCrGa_dn],
  NiCrS:[NiCrS_up,NiCrS_dn],NiCrP:[NiCrP_up,NiCrP_dn],NiCrSi:[NiCrSi_up,NiCrSi_dn],NiCrAl:[NiCrAl_up,NiCrAl_dn],
  NiMnTe:[NiMnTe_up,NiMnTe_dn],NiMnSb:[NiMnSb_up,NiMnSb_dn],NiMnSn:[NiMnSn_up,NiMnSn_dn],NiMnIn:[NiMnIn_up,NiMnIn_dn],
  NiMnSe:[NiMnSe_up,NiMnSe_dn],NiMnAs:[NiMnAs_up,NiMnAs_dn],NiMnGe:[NiMnGe_up,NiMnGe_dn],NiMnGa:[NiMnGa_up,NiMnGa_dn],
  NiMnS:[NiMnS_up,NiMnS_dn],NiMnP:[NiMnP_up,NiMnP_dn],NiMnSi:[NiMnSi_up,NiMnSi_dn],NiMnAl:[NiMnAl_up,NiMnAl_dn],
  NiFeTe:[NiFeTe_up,NiFeTe_dn],NiFeSb:[NiFeSb_up,NiFeSb_dn],NiFeSn:[NiFeSn_up,NiFeSn_dn],NiFeIn:[NiFeIn_up,NiFeIn_dn],
  NiFeSe:[NiFeSe_up,NiFeSe_dn],NiFeAs:[NiFeAs_up,NiFeAs_dn],NiFeGe:[NiFeGe_up,NiFeGe_dn],NiFeGa:[NiFeGa_up,NiFeGa_dn],
  NiFeS:[NiFeS_up,NiFeS_dn],NiFeP:[NiFeP_up,NiFeP_dn],NiFeSi:[NiFeSi_up,NiFeSi_dn],NiFeAl:[NiFeAl_up,NiFeAl_dn]
};

// ---------- layout & style ----------
const colors = ["#00ff00","#0000ff","#ff0000","#000000"];
const xDomain = [-8.08, 3.07];
const columns = [
  {left:93, right:593, legend:[-7.82,-7.08,-6.95], tickPad:3, yTitle:{x:72,y:404}, xTitle:{x:345,y:814},
   panels:[
    {top:29, bottom:275, H:73.7, names:["NiCrTe","NiCrSb","NiCrSn","NiCrIn"], off:[62.2,46.0,30.3,13.7], dashed:[1,0,1,1]},
    {top:281, bottom:526, H:73.5, names:["NiCrSe","NiCrAs","NiCrGe","NiCrGa"], off:[61.5,45.0,28.5,12.0], dashed:[1,0,1,1], yTicks:yTicksCr},
    {top:533, bottom:777, H:73.2, names:["NiCrS","NiCrP","NiCrSi","NiCrAl"], off:[61.8,45.4,29.0,12.5], dashed:[1,0,0,1]}]},
  {left:697, right:1197, legend:[-7.6,-6.85,-6.72], tickPad:3, yTitle:{x:673,y:397}, xTitle:{x:963,y:802},
   panels:[
    {top:28, bottom:272, H:73.2, names:["NiMnTe","NiMnSb","NiMnSn","NiMnIn"], off:[58.6,45.7,29.2,12.5], dashed:[0,0,0,1]},
    {top:277, bottom:520, H:72.8, names:["NiMnSe","NiMnAs","NiMnGe","NiMnGa"], off:[59.5,43.4,27.2,11.0], dashed:[0,0,0,1]},
    {top:523, bottom:765, H:72.5, names:["NiMnS","NiMnP","NiMnSi","NiMnAl"], off:[57.9,42.5,27.2,11.5], dashed:[0,0,0,0], spin:{x:[0.72,0.82], dy:[3.3,-8.8]}}]},
  {left:1302, right:1802, legend:[-7.71,-6.97,-6.82], tickPad:6, yTitle:{x:1281,y:398}, xTitle:{x:1559,y:812},
   panels:[
    {top:27, bottom:268, H:72.5, names:["NiFeTe","NiFeSb","NiFeSn","NiFeIn"], off:[59.0,45.8,30.3,14.8], dashed:[1,1,1,1]},
    {top:277, bottom:518, H:72.3, names:["NiFeSe","NiFeAs","NiFeGe","NiFeGa"], off:[57.4,41.3,25.5,9.7], dashed:[1,0,0,0], yTicks:yTicksFe},
    {top:526, bottom:773, H:74.2, names:["NiFeS","NiFeP","NiFeSi","NiFeAl"], off:[62.3,45.0,28.2,11.2], dashed:[1,0,0,0]}]}
];

function pts(flat){const r=[];for(let i=0;i<flat.length;i+=2)r.push({e:flat[i],v:flat[i+1]});return r;}

const root = document.getElementById("root");
const M = 4;

columns.forEach((col, ci) => {
  col.panels.forEach((p, pi) => {
    const isBottom = pi === col.panels.length - 1;
    const W = col.right - col.left, Hp = p.bottom - p.top;
    const mb = isBottom ? 30 : M;
    const marks = [];
    const labelRows = p.names.map((name, i) => {
      const upper = i === 0 ? p.H : p.off[i-1];
      return {name, ly:(p.off[i] + upper)/2 - 0.5, color:colors[i], dashed:p.dashed[i]};
    });
    marks.push(Plot.ruleY(p.off, {stroke:"black", strokeWidth:1, strokeDasharray:"1.5,2"}));
    marks.push(Plot.ruleX([0], {stroke:"black", strokeWidth:1.2, strokeDasharray:"1.5,2"}));
    p.names.forEach((name, i) => {
      const off = p.off[i];
      const [up, dn] = series[name];
      const opts = {x:"e", stroke:colors[i], strokeWidth:2.1};
      if (p.dashed[i]) opts.strokeDasharray = "8,4";
      marks.push(Plot.line(pts(up), {...opts, y:d => off + d.v}));
      marks.push(Plot.line(pts(dn), {...opts, y:d => off - d.v}));
    });
    labelRows.forEach(r => {
      const o = {y:"ly", x1:() => col.legend[0], x2:() => col.legend[1], stroke:r.color, strokeWidth:2.1};
      if (r.dashed) o.strokeDasharray = "8,4";
      marks.push(Plot.ruleY([r], o));
    });
    marks.push(Plot.text(labelRows, {x:() => col.legend[2], y:"ly", text:"name", textAnchor:"start", fontSize:19, fill:"black"}));
    if (p.spin) {
      marks.push(Plot.text(spinLabels, {x:(d,i) => p.spin.x[i], y:(d,i) => p.off[0] + p.spin.dy[i], text:d => d, fontSize:19, fill:"black"}));
    }
    marks.push(Plot.axisX(energyTicks, {anchor:"bottom", tickSize:-5, fill:"none", strokeWidth:1.5}));
    marks.push(Plot.axisX(energyTicks, {anchor:"top", tickSize:-5, fill:"none", strokeWidth:1.5}));
    if (p.yTicks) {
      marks.push(Plot.axisY(p.yTicks, {anchor:"left", tickSize:-6, fill:"none", strokeWidth:1.5}));
      marks.push(Plot.axisY(p.yTicks, {anchor:"right", tickSize:-6, fill:"none", strokeWidth:1.5}));
    }
    if (isBottom) {
      marks.push(Plot.axisX(energyLabels, {anchor:"bottom", tickSize:0, tickPadding:col.tickPad, tickFormat:d => String(d), fontSize:20, label:null}));
    }
    marks.push(Plot.frame({stroke:"black", strokeWidth:2.5}));
    const svg = Plot.plot({
      width: W + 2*M, height: Hp + M + mb,
      marginLeft:M, marginRight:M, marginTop:M, marginBottom:mb,
      x:{domain:xDomain, axis:null}, y:{domain:[0, p.H], axis:null},
      style:{fontFamily:"'Liberation Sans', Arial, sans-serif", fontSize:"19px", color:"black", background:"transparent", overflow:"visible"},
      marks
    });
    svg.style.position = "absolute";
    svg.style.left = (col.left - M) + "px";
    svg.style.top = (p.top - M) + "px";
    svg.style.maxWidth = "none";
    root.appendChild(svg);
  });
  const yl = document.createElement("div");
  yl.className = "ylab"; yl.textContent = yAxisTitles[ci];
  yl.style.left = col.yTitle.x + "px"; yl.style.top = col.yTitle.y + "px";
  root.appendChild(yl);
  const xl = document.createElement("div");
  xl.className = "xlab"; xl.textContent = xAxisTitle;
  xl.style.left = col.xTitle.x + "px"; xl.style.top = col.xTitle.y + "px";
  root.appendChild(xl);
});
</script>
</body></html>
